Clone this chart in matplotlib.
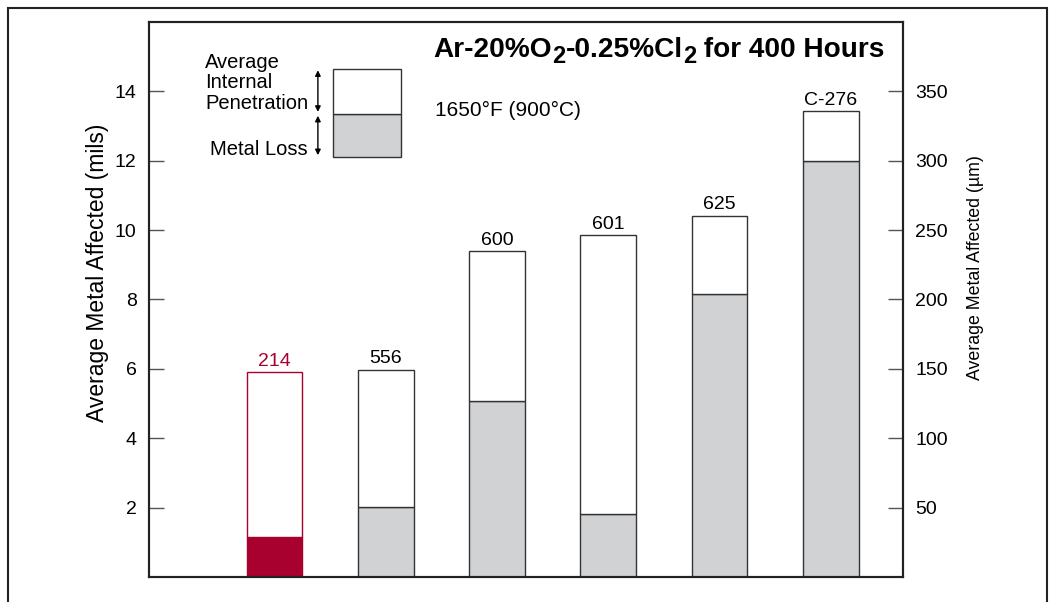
import matplotlib
matplotlib.use("Agg")
import matplotlib.pyplot as plt
from matplotlib.patches import Rectangle

plt.rcParams['font.family'] = ['Liberation Sans', 'DejaVu Sans']

# data (mils)
alloys = ['214', '556', '600', '601', '625', 'C-276']
metal_loss = [1.16, 2.03, 5.06, 1.83, 8.17, 11.99]
total_affected = [5.92, 5.98, 9.39, 9.87, 10.42, 13.42]
left_ticks = [2, 4, 6, 8, 10, 12, 14]
right_ticks = [50, 100, 150, 200, 250, 300, 350]

crimson = '#A8002F'
gray = '#D1D2D4'
edge = '#333333'

fig = plt.figure(figsize=(10.56, 6.02), dpi=100)
ax = fig.add_axes([0.1411, 0.0415, 0.714, 0.922])
ax2 = ax.twinx()

# outer frame
fig.patches.append(Rectangle((8 / 1056, -0.05), 1039 / 1056, 1.05 - 8 / 602,
                             transform=fig.transFigure, fill=False,
                             edgecolor='#222222', linewidth=1.5))

x = list(range(len(alloys)))
pen = [t - m for t, m in zip(total_affected, metal_loss)]
for i in x:
    if alloys[i] == '214':
        fc_loss, ec, txt_c = crimson, crimson, crimson
    else:
        fc_loss, ec, txt_c = gray, edge, 'black'
    ax.bar(i, metal_loss[i], width=0.5, color=fc_loss, edgecolor=ec, linewidth=1.0)
    ax.bar(i, pen[i], bottom=metal_loss[i], width=0.5, color='white', edgecolor=ec, linewidth=1.0)
    ax.text(i, total_affected[i] + 0.06, alloys[i], ha='center', va='bottom',
            fontsize=14, color=txt_c)

ax.set_xlim(-1.13, 5.65)
ax.set_ylim(0, 16)
ax.set_xticks([])
ax.set_yticks(left_ticks)
ax.set_yticklabels([str(t) for t in left_ticks])
ax.set_ylabel('Average Metal Affected (mils)', fontsize=16.5)
ax.yaxis.set_label_coords(-0.053, 0.548)

ax2.set_ylim(0, 400)
ax2.set_yticks(right_ticks)
ax2.set_yticklabels([str(t) for t in right_ticks])
ax2.set_ylabel('Average Metal Affected (\u00b5m)', fontsize=12.8)
ax2.yaxis.set_label_coords(1.085, 0.557)

for a in (ax, ax2):
    a.tick_params(axis='y', direction='in', length=11, width=1, color='#555555',
                  labelsize=14, pad=9)
    for s in a.spines.values():
        s.set_linewidth(1.5)
        s.set_color('#222222')

# title, built piece by piece so the subscripts stay large
title_parts = [('Ar-20%O', False), ('2', True), ('-0.25%Cl', False), ('2', True),
               (' for 400 Hours', False)]
prev = ax.text(0.377, 0.9375, title_parts[0][0], transform=ax.transAxes,
               ha='left', va='baseline', fontsize=20.2, fontweight='bold')
for txt, sub in title_parts[1:]:
    prev = ax.annotate(txt, xy=(1, 0.9375), xycoords=(prev, 'axes fraction'),
                       xytext=(0.3 if sub else 0, -4.8 if sub else 0),
                       textcoords='offset points', ha='left', va='baseline',
                       fontsize=17 if sub else 20.2, fontweight='bold')

ax.text(0.379, 0.841, '1650\u00b0F (900\u00b0C)', transform=ax.transAxes,
        ha='left', va='center', fontsize=15)

# legend key
ax.add_patch(Rectangle((0.244, 0.757), 0.090, 0.077, transform=ax.transAxes,
                       facecolor=gray, edgecolor=edge, linewidth=1.0))
ax.add_patch(Rectangle((0.244, 0.834), 0.090, 0.081, transform=ax.transAxes,
                       facecolor='white', edgecolor=edge, linewidth=1.0))
for y0, y1 in [(0.913, 0.838), (0.831, 0.760)]:
    ax.annotate('', xy=(0.224, y0), xytext=(0.224, y1), xycoords='axes fraction',
                arrowprops=dict(arrowstyle='<|-|>', color='black', lw=1.0,
                                mutation_scale=8, shrinkA=0, shrinkB=0))
ax.text(0.211, 0.945, 'Average\nInternal\nPenetration', transform=ax.transAxes,
        ha='right', va='top', fontsize=14.5, linespacing=1.1, multialignment='left')
ax.text(0.211, 0.771, 'Metal Loss', transform=ax.transAxes,
        ha='right', va='center', fontsize=14.5)

fig.savefig('out.png', dpi=100)
